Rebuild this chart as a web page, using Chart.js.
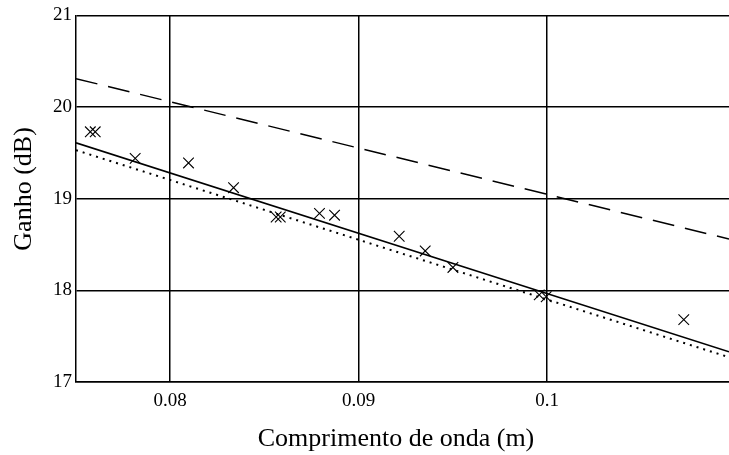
<!DOCTYPE html>
<html><head><meta charset="utf-8">
<script src="https://cdn.jsdelivr.net/npm/chart.js@4/dist/chart.umd.min.js"></script>
<style>html,body{margin:0;padding:0;background:#fff;overflow:hidden}</style>
</head><body><canvas id="c" width="729" height="455"></canvas>
<script>
// Measured data (wavelength in m, gain in dB)
const wavelength = [0.07576, 0.07602, 0.07814, 0.08097, 0.08336, 0.08562, 0.08584, 0.08792, 0.08872, 0.09215, 0.09353, 0.09500, 0.09958, 0.09995, 0.10725];
const gain       = [19.73,   19.73,   19.44,   19.39,   19.12,   18.80,   18.80,   18.84,   18.82,   18.59,   18.43,   18.25,   17.95,   17.93,   17.68];
// Straight lines (endpoints at the axis limits)
const lineX        = [0.075, 0.10965];
const fitSolid     = [19.61, 17.33];
const fitDotted    = [19.53, 17.27];
const theoryDashed = [20.31, 18.56];
// Ticks
const xTicks = [0.08, 0.09, 0.1];
const xTickLabels = ['0.08', '0.09', '0.1'];
const yTicks = [17, 18, 19, 20, 21];
const yTickLabels = ['17', '18', '19', '20', '21'];

const serif = "'Liberation Serif', 'Times New Roman', serif";
const pts = (xs, ys) => xs.map((x, i) => ({x: x, y: ys[i]}));
const NB = '\u00A0';

new Chart(document.getElementById('c'), {
  type: 'scatter',
  data: {
    datasets: [
      {data: pts(lineX, theoryDashed), showLine: true, pointRadius: 0, borderColor: '#000', borderWidth: 1.5, borderDash: [22, 11]},
      {data: pts(lineX, fitSolid), showLine: true, pointRadius: 0, borderColor: '#000', borderWidth: 1.6},
      {data: pts(lineX, fitDotted), showLine: true, pointRadius: 0, borderColor: '#000', borderWidth: 2, borderDash: [2, 5]},
      {data: pts(wavelength, gain), showLine: false, pointStyle: 'crossRot', pointRadius: 7.5, borderColor: '#000', borderWidth: 1.1}
    ]
  },
  options: {
    responsive: false,
    devicePixelRatio: 1,
    animation: false,
    layout: {autoPadding: false, padding: {top: 15, right: 0, left: 0, bottom: 0}},
    plugins: {legend: {display: false}, tooltip: {enabled: false}},
    scales: {
      x: {
        type: 'linear', min: 0.075, max: 0.10965,
        afterBuildTicks: s => { s.ticks = xTicks.map(v => ({value: v})); },
        afterFit: s => { s.height = 73; },
        grid: {color: '#000', lineWidth: 1.5, drawTicks: false},
        border: {display: true, color: '#000', width: 1.5},
        ticks: {padding: 8, color: '#000', font: {family: serif, size: 19},
          callback: (v) => xTickLabels[xTicks.indexOf(v)] },
        title: {display: true, text: 'Comprimento de onda (m)' + NB + NB, color: '#000', font: {family: serif, size: 26}, padding: {top: 3, bottom: 0}}
      },
      y: {
        type: 'linear', min: 17, max: 21,
        afterBuildTicks: s => { s.ticks = yTicks.map(v => ({value: v})); },
        afterFit: s => { s.width = 76; },
        grid: {color: '#000', lineWidth: 1.5, drawTicks: false},
        border: {display: true, color: '#000', width: 1.5},
        ticks: {padding: 4, color: '#000', font: {family: serif, size: 19},
          callback: (v) => yTickLabels[yTicks.indexOf(v)] },
        title: {display: true, text: NB + NB + NB + 'Ganho (dB)', color: '#000', font: {family: serif, size: 26}, padding: {top: 9, bottom: 0}}
      }
    }
  }
});
</script></body></html>
